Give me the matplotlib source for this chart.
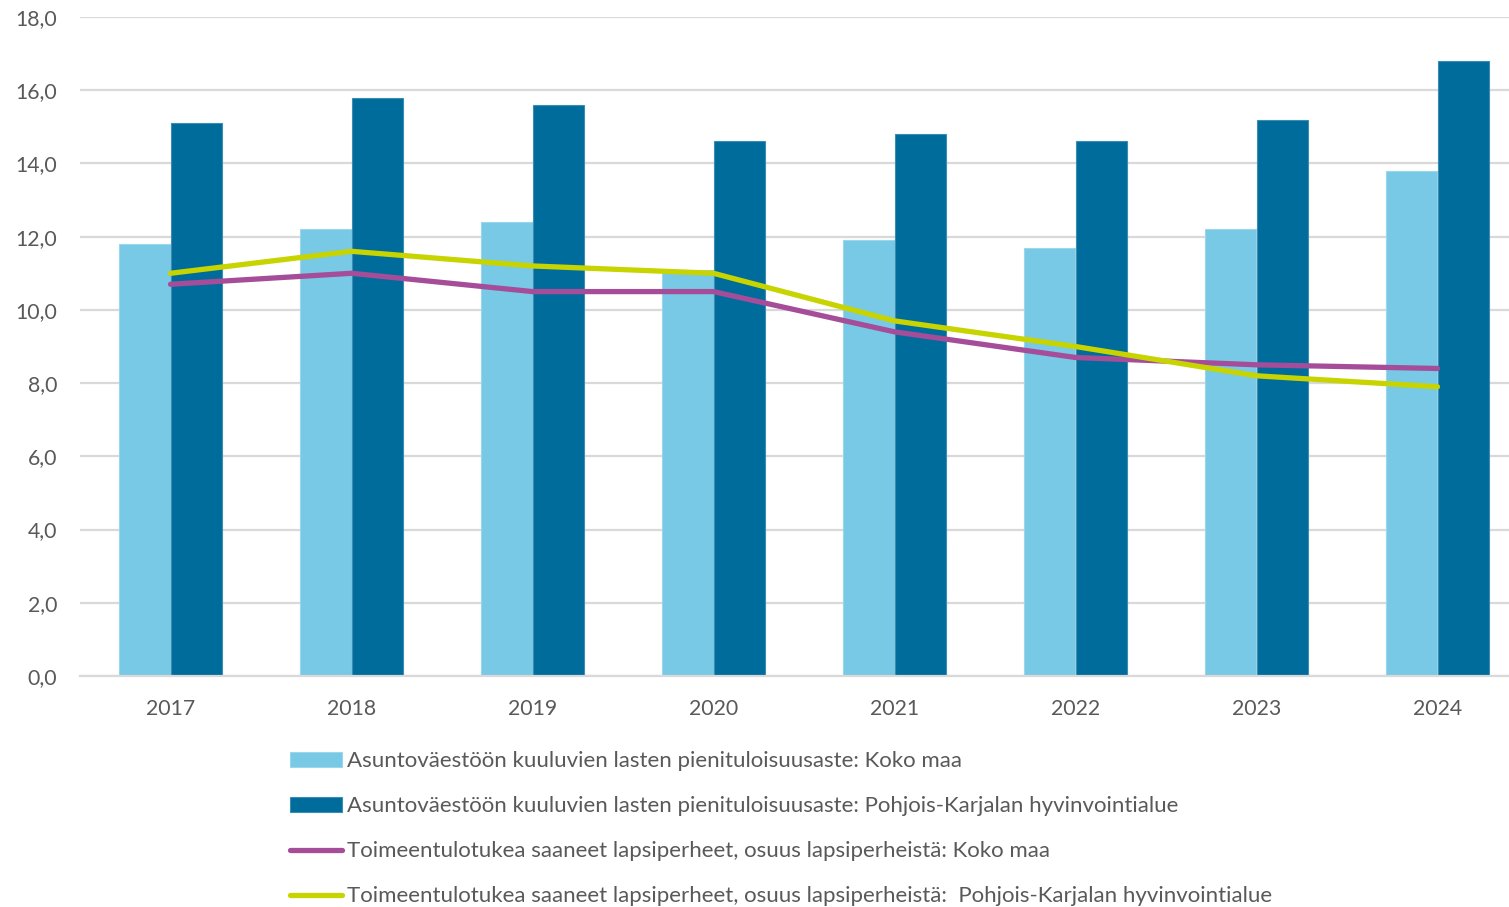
import matplotlib
matplotlib.use("Agg")
import matplotlib.pyplot as plt
import numpy as np

years = ["2017", "2018", "2019", "2020", "2021", "2022", "2023", "2024"]
koko_maa_bar = [11.8, 12.2, 12.4, 11.1, 11.9, 11.7, 12.2, 13.8]
pk_bar = [15.1, 15.8, 15.6, 14.6, 14.8, 14.6, 15.2, 16.8]
koko_maa_line = [10.7, 11.0, 10.5, 10.5, 9.4, 8.7, 8.5, 8.4]
pk_line = [11.0, 11.6, 11.2, 11.0, 9.7, 9.0, 8.2, 7.9]
yticks = [0, 2, 4, 6, 8, 10, 12, 14, 16, 18]

labels = [
    "Asuntoväestöön kuuluvien lasten pienituloisuusaste: Koko maa",
    "Asuntoväestöön kuuluvien lasten pienituloisuusaste: Pohjois-Karjalan hyvinvointialue",
    "Toimeentulotukea saaneet lapsiperheet, osuus lapsiperheistä: Koko maa",
    "Toimeentulotukea saaneet lapsiperheet, osuus lapsiperheistä:  Pohjois-Karjalan hyvinvointialue",
]

plt.rcParams['font.family'] = ['Lato', 'DejaVu Sans']
txt = '#595959'

W, H = 1509, 907
fig = plt.figure(figsize=(W/100, H/100), dpi=100)
ax = fig.add_axes([80/W, 1-676/H, 1448/W, (676-17)/H])

x = np.arange(len(years))
bw = 0.287
b1 = ax.bar(x - bw/2, koko_maa_bar, bw, color='#78C9E6', edgecolor='#9AD6EC', linewidth=0.8, zorder=2, label=labels[0])
b2 = ax.bar(x + bw/2, pk_bar, bw, color='#006C9C', edgecolor='#3D8DB3', linewidth=0.8, zorder=2, label=labels[1])
l1, = ax.plot(x, koko_maa_line, color='#A64D9A', lw=3.8, solid_capstyle='round', zorder=3, label=labels[2])
l2, = ax.plot(x, pk_line, color='#C8D400', lw=3.8, solid_capstyle='round', zorder=4, label=labels[3])

ax.set_xlim(-0.5, len(years) - 0.5)
ax.set_ylim(0, 18)
ax.set_yticks(yticks)
ax.set_yticklabels([f"{v:.1f}".replace('.', ',') for v in yticks])
ax.set_xticks(x)
ax.set_xticklabels(years)
ax.yaxis.grid(True, color='#D9D9D9', lw=1.6, zorder=0)
ax.set_axisbelow(True)
for s in ['top', 'right', 'left']:
    ax.spines[s].set_visible(False)
ax.spines['bottom'].set_color('#D9D9D9')
ax.spines['bottom'].set_linewidth(1.6)
ax.tick_params(axis='both', length=0, labelsize=15.3, colors=txt)
ax.tick_params(axis='y', pad=16.5)
ax.tick_params(axis='x', pad=16.5)

leg = fig.legend(handles=[b1, b2, l1, l2], labels=labels, loc='upper left',
                 bbox_to_anchor=(290/W, 1-751/H), frameon=False, fontsize=16,
                 handlelength=2.34, handleheight=0.65, handletextpad=0.22, labelspacing=1.13,
                 borderaxespad=0, borderpad=0)
for t in leg.get_texts():
    t.set_color(txt)

fig.savefig('out.png', dpi=100)
